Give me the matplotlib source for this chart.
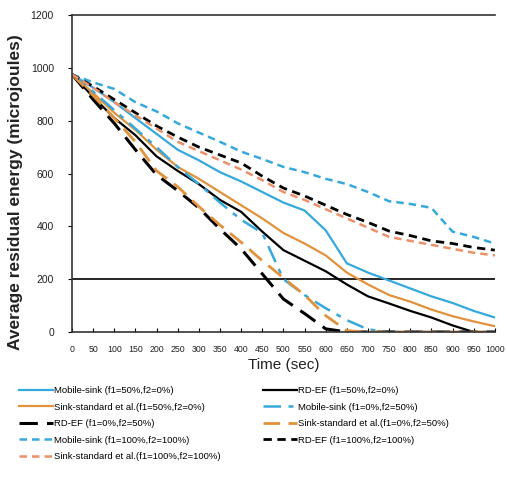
import matplotlib.pyplot as plt

plt.rcParams['font.family'] = ['Liberation Sans', 'DejaVu Sans']

time_sec = [0, 50, 100, 150, 200, 250, 300, 350, 400, 450, 500,
            550, 600, 650, 700, 750, 800, 850, 900, 950, 1000]
x_ticks = list(range(0, 1001, 50))
y_ticks = [0, 200, 400, 600, 800, 1000, 1200]

# f1=50%, f2=0%
mobile_50_0 = [975, 925, 870, 810, 750, 690, 650, 605, 570, 530, 490,
               460, 385, 260, 225, 195, 165, 135, 110, 80, 55]
rdef_50_0 = [975, 890, 810, 745, 665, 610, 560, 500, 455, 380, 310,
             270, 230, 180, 135, 108, 80, 55, 25, 0, 0]
sink_50_0 = [975, 905, 830, 765, 690, 625, 580, 530, 480, 430, 375,
             335, 290, 225, 180, 140, 115, 85, 60, 40, 22]
# f1=0%, f2=50%
mobile_0_50 = [975, 910, 840, 770, 700, 625, 560, 490, 425, 375, 200,
               140, 90, 45, 10, 0, 0, 0, 0, 0, 0]
rdef_0_50 = [975, 880, 790, 690, 595, 535, 470, 390, 315, 220, 125,
             70, 12, 0, 0, 0, 0, 0, 0, 0, 0]
sink_0_50 = [975, 895, 810, 720, 610, 550, 475, 405, 340, 270, 205,
             140, 62, 5, 0, 0, 0, 0, 0, 0, 0]
# f1=100%, f2=100%
mobile_100 = [975, 945, 920, 870, 835, 790, 755, 720, 683, 655, 625,
              605, 580, 560, 530, 495, 485, 470, 380, 360, 335]
rdef_100 = [975, 930, 880, 830, 780, 738, 700, 670, 640, 590, 545,
            515, 480, 445, 415, 382, 365, 345, 335, 320, 310]
sink_100 = [975, 925, 870, 820, 770, 720, 685, 650, 615, 575, 530,
            500, 465, 430, 395, 360, 345, 330, 315, 300, 290]

BLUE = "#35a8dc"
ORANGE = "#e0923c"
SALMON = "#ec9068"

fig = plt.figure(figsize=(5.07, 4.84), dpi=100)
ax = fig.add_axes([0.142, 0.314, 0.834, 0.655])

ax.axhline(200, color="black", linewidth=1.2, zorder=1)

h = []
h += ax.plot(time_sec, mobile_50_0, color=BLUE, lw=1.6,
             label="Mobile-sink (f1=50%,f2=0%)")
h += ax.plot(time_sec, rdef_50_0, color="black", lw=1.6,
             label="RD-EF (f1=50%,f2=0%)")
h += ax.plot(time_sec, sink_50_0, color=ORANGE, lw=1.6,
             label="Sink-standard et al.(f1=50%,f2=0%)")
h += ax.plot(time_sec, mobile_0_50, color=BLUE, lw=1.8, dashes=(7, 3, 2, 3),
             label="Mobile-sink (f1=0%,f2=50%)")
h += ax.plot(time_sec, rdef_0_50, color="black", lw=2.2, dashes=(6, 3),
             label="RD-EF (f1=0%,f2=50%)")
h += ax.plot(time_sec, sink_0_50, color=ORANGE, lw=2.0, dashes=(6, 3),
             label="Sink-standard et al.(f1=0%,f2=50%)")
h += ax.plot(time_sec, mobile_100, color=BLUE, lw=1.8, dashes=(3, 2),
             label="Mobile-sink (f1=100%,f2=100%)")
h += ax.plot(time_sec, rdef_100, color="black", lw=2.0, dashes=(3, 2),
             label="RD-EF (f1=100%,f2=100%)")
h += ax.plot(time_sec, sink_100, color=SALMON, lw=1.8, dashes=(3, 2),
             label="Sink-standard et al.(f1=100%,f2=100%)")

ax.set_xlim(0, 1000)
ax.set_ylim(0, 1200)
ax.set_xticks(x_ticks)
ax.set_xticklabels([str(v) for v in x_ticks], fontsize=6.3, color="#222222")
ax.set_yticks(y_ticks)
ax.set_yticklabels([str(v) for v in y_ticks], fontsize=7.5, color="#222222")
ax.tick_params(axis="x", direction="in", length=3, pad=9)
ax.tick_params(axis="y", direction="out", length=3, pad=10)

ax.spines["right"].set_visible(False)
for s in ("left", "top", "bottom"):
    ax.spines[s].set_color("#333333")
    ax.spines[s].set_linewidth(1.2)

ax.set_ylabel("Average residual energy (microjoules)", fontsize=12.5,
              fontweight="bold", color="#222222")
ax.yaxis.set_label_coords(-0.115, 0.44)
ax.set_xlabel("Time (sec)", fontsize=11, color="#222222", labelpad=3)

# row-major order, as in the reference legend
order = [0, 2, 4, 6, 8, 1, 3, 5, 7]
fig.legend(handles=[h[i] for i in order], loc="upper left",
           bbox_to_anchor=(0.02, 0.22), ncol=2, frameon=False, fontsize=6.8,
           handlelength=3.6, handletextpad=0.1, columnspacing=4.5,
           labelspacing=0.8)

fig.savefig("out.png", dpi=100, facecolor="white")
